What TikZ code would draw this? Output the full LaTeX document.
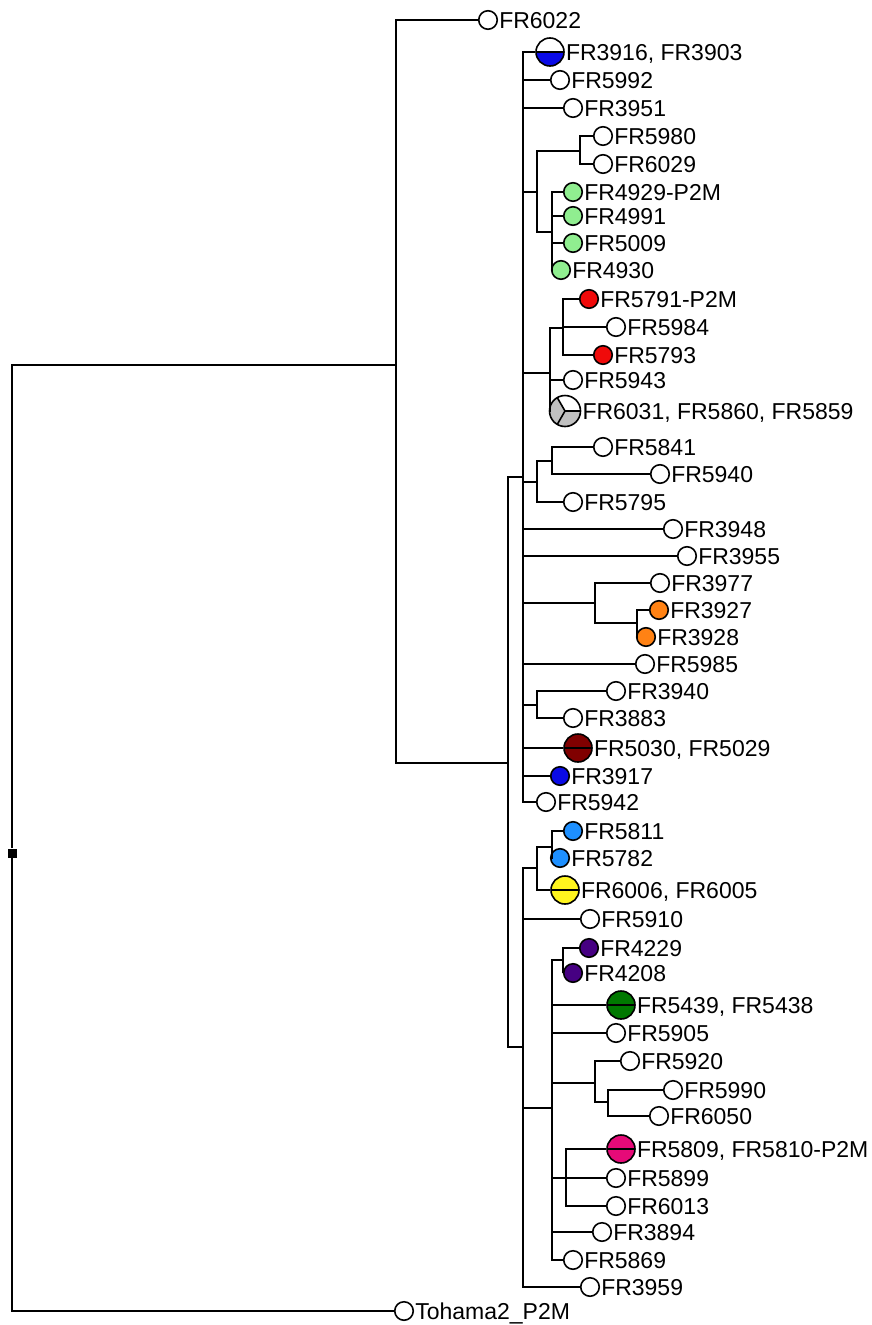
\documentclass[tikz,border=0pt]{standalone}
\usepackage{fontspec}
\setmainfont{Liberation Sans}
\usepackage{tikz}
\usetikzlibrary{positioning,calc}
\usepackage{xcolor}
\definecolor{hapblue}{RGB}{10,10,230}
\definecolor{haplightgreen}{RGB}{144,238,144}
\definecolor{hapred}{RGB}{240,10,10}
\definecolor{hapgrey}{RGB}{192,192,192}
\definecolor{haporange}{RGB}{255,130,20}
\definecolor{hapdarkred}{RGB}{128,0,0}
\definecolor{haplightblue}{RGB}{30,144,255}
\definecolor{hapyellow}{RGB}{255,245,30}
\definecolor{happurple}{RGB}{70,0,130}
\definecolor{hapdarkgreen}{RGB}{0,120,0}
\definecolor{happink}{RGB}{230,10,120}

\begin{document}
\begin{tikzpicture}[x=1pt, y=-1pt,
    br/.style={line width=2.2pt},
    dot/.style={circle, draw=black, line width=1.6pt, fill=white,
        minimum size=18.5pt, inner sep=0pt},
    halfdot/.style 2 args={dot, minimum size=28pt, path picture={
        \fill[#1] (path picture bounding box.north west) rectangle (path picture bounding box.east);
        \fill[#2] (path picture bounding box.west) rectangle (path picture bounding box.south east);
        \draw[line width=1.6pt] (path picture bounding box.west) -- (path picture bounding box.east);}},
    piedot/.style={dot, minimum size=31pt, path picture={
        \fill[hapgrey] (path picture bounding box.center) -- ++(120:20pt)
            arc[start angle=120, end angle=360, radius=20pt] -- cycle;
        \draw[line width=1.6pt] (path picture bounding box.center) -- ++(0:20pt)
            (path picture bounding box.center) -- ++(120:20pt)
            (path picture bounding box.center) -- ++(240:20pt);}},
    rootsq/.style={rectangle, fill=black, minimum size=9pt, inner sep=0pt},
    lab/.style={anchor=west, inner sep=1pt, font=\fontsize{23}{25}\selectfont,
        text height=16.5pt, text depth=0pt}
]
    \useasboundingbox (0,0) rectangle (871,1325);

    % Internal nodes
    \node[rootsq] (root) at (12,853) {};
    \coordinate (n1) at (396,365);
    \coordinate (nA) at (508,763);
    \coordinate (nB) at (523,477);
    \coordinate (nC) at (523,1047);
    \coordinate (nD) at (537,192);
    \coordinate (nE) at (580,151);
    \coordinate (nF) at (552,232);
    \coordinate (nG) at (550,373);
    \coordinate (nH) at (563,328);
    \coordinate (nI) at (537,482);
    \coordinate (nJ) at (552,461);
    \coordinate (nK) at (595,603);
    \coordinate (nL) at (637,623);
    \coordinate (nM) at (537,705);
    \coordinate (nN) at (537,868);
    \coordinate (nO) at (552,847);
    \coordinate (nP) at (552,1108);
    \coordinate (nQ) at (563,960);
    \coordinate (nR) at (595,1083);
    \coordinate (nS) at (608,1102);
    \coordinate (nT) at (566,1178);

    % Leaves
    \node[dot] (fr6022) at (488,20) {};
    \node[dot] (tohama) at (404,1311) {};
    \node[halfdot={white}{hapblue}] (fr3916) at (550,52) {};
    \node[dot] (fr5992) at (560,80) {};
    \node[dot] (fr3951) at (573,108) {};
    \node[dot] (fr5980) at (603,136) {};
    \node[dot] (fr6029) at (603,164) {};
    \node[dot, fill=haplightgreen] (fr4929) at (573,192) {};
    \node[dot, fill=haplightgreen] (fr4991) at (573,216) {};
    \node[dot, fill=haplightgreen] (fr5009) at (573,243) {};
    \node[dot, fill=haplightgreen] (fr4930) at (561,270) {};
    \node[dot, fill=hapred] (fr5791) at (589,299) {};
    \node[dot] (fr5984) at (616,327) {};
    \node[dot, fill=hapred] (fr5793) at (603,355) {};
    \node[dot] (fr5943) at (573,380) {};
    \node[piedot] (fr6031) at (565,411) {};
    \node[dot] (fr5841) at (603,447) {};
    \node[dot] (fr5940) at (660,474) {};
    \node[dot] (fr5795) at (573,502) {};
    \node[dot] (fr3948) at (673,529) {};
    \node[dot] (fr3955) at (687,556) {};
    \node[dot] (fr3977) at (660,583) {};
    \node[dot, fill=haporange] (fr3927) at (659,610) {};
    \node[dot, fill=haporange] (fr3928) at (646,637) {};
    \node[dot] (fr5985) at (645,664) {};
    \node[dot] (fr3940) at (616,691) {};
    \node[dot] (fr3883) at (573,718) {};
    \node[halfdot={hapdarkred}{hapdarkred}] (fr5030) at (578,748) {};
    \node[dot, fill=hapblue] (fr3917) at (560,776) {};
    \node[dot] (fr5942) at (546,802) {};
    \node[dot, fill=haplightblue] (fr5811) at (573,831) {};
    \node[dot, fill=haplightblue] (fr5782) at (560,858) {};
    \node[halfdot={hapyellow}{hapyellow}] (fr6006) at (565,890) {};
    \node[dot] (fr5910) at (590,919) {};
    \node[dot, fill=happurple] (fr4229) at (589,948) {};
    \node[dot, fill=happurple] (fr4208) at (573,973) {};
    \node[halfdot={hapdarkgreen}{hapdarkgreen}] (fr5439) at (621,1005) {};
    \node[dot] (fr5905) at (616,1033) {};
    \node[dot] (fr5920) at (630,1061) {};
    \node[dot] (fr5990) at (673,1090) {};
    \node[dot] (fr6050) at (659,1116) {};
    \node[halfdot={happink}{happink}] (fr5809) at (621,1149) {};
    \node[dot] (fr5899) at (616,1178) {};
    \node[dot] (fr6013) at (616,1206) {};
    \node[dot] (fr3894) at (602,1232) {};
    \node[dot] (fr5869) at (573,1260) {};
    \node[dot] (fr3959) at (590,1287) {};

    % Labels
    \node[lab] (t6022) at (fr6022.east) {FR6022};
    \node[lab] (ttohama) at (tohama.east) {Tohama2\_P2M};
    \node[lab] (t3916) at (fr3916.east) {FR3916, FR3903};
    \node[lab] (t5992) at (fr5992.east) {FR5992};
    \node[lab] (t3951) at (fr3951.east) {FR3951};
    \node[lab] (t5980) at (fr5980.east) {FR5980};
    \node[lab] (t6029) at (fr6029.east) {FR6029};
    \node[lab] (t4929) at (fr4929.east) {FR4929-P2M};
    \node[lab] (t4991) at (fr4991.east) {FR4991};
    \node[lab] (t5009) at (fr5009.east) {FR5009};
    \node[lab] (t4930) at (fr4930.east) {FR4930};
    \node[lab] (t5791) at (fr5791.east) {FR5791-P2M};
    \node[lab] (t5984) at (fr5984.east) {FR5984};
    \node[lab] (t5793) at (fr5793.east) {FR5793};
    \node[lab] (t5943) at (fr5943.east) {FR5943};
    \node[lab] (t6031) at (fr6031.east) {FR6031, FR5860, FR5859};
    \node[lab] (t5841) at (fr5841.east) {FR5841};
    \node[lab] (t5940) at (fr5940.east) {FR5940};
    \node[lab] (t5795) at (fr5795.east) {FR5795};
    \node[lab] (t3948) at (fr3948.east) {FR3948};
    \node[lab] (t3955) at (fr3955.east) {FR3955};
    \node[lab] (t3977) at (fr3977.east) {FR3977};
    \node[lab] (t3927) at (fr3927.east) {FR3927};
    \node[lab] (t3928) at (fr3928.east) {FR3928};
    \node[lab] (t5985) at (fr5985.east) {FR5985};
    \node[lab] (t3940) at (fr3940.east) {FR3940};
    \node[lab] (t3883) at (fr3883.east) {FR3883};
    \node[lab] (t5030) at (fr5030.east) {FR5030, FR5029};
    \node[lab] (t3917) at (fr3917.east) {FR3917};
    \node[lab] (t5942) at (fr5942.east) {FR5942};
    \node[lab] (t5811) at (fr5811.east) {FR5811};
    \node[lab] (t5782) at (fr5782.east) {FR5782};
    \node[lab] (t6006) at (fr6006.east) {FR6006, FR6005};
    \node[lab] (t5910) at (fr5910.east) {FR5910};
    \node[lab] (t4229) at (fr4229.east) {FR4229};
    \node[lab] (t4208) at (fr4208.east) {FR4208};
    \node[lab] (t5439) at (fr5439.east) {FR5439, FR5438};
    \node[lab] (t5905) at (fr5905.east) {FR5905};
    \node[lab] (t5920) at (fr5920.east) {FR5920};
    \node[lab] (t5990) at (fr5990.east) {FR5990};
    \node[lab] (t6050) at (fr6050.east) {FR6050};
    \node[lab] (t5809) at (fr5809.east) {FR5809, FR5810-P2M};
    \node[lab] (t5899) at (fr5899.east) {FR5899};
    \node[lab] (t6013) at (fr6013.east) {FR6013};
    \node[lab] (t3894) at (fr3894.east) {FR3894};
    \node[lab] (t5869) at (fr5869.east) {FR5869};
    \node[lab] (t3959) at (fr3959.east) {FR3959};

    % Branches
    \draw[br] (root) |- (n1) (root) |- (tohama.west);
    \draw[br] (n1) |- (fr6022.west) (n1) |- (nA);
    \draw[br] (nA) |- (nB) (nA) |- (nC);
    \draw[br] (nB) |- (fr3916.west) (nB) |- (fr5992.west) (nB) |- (fr3951.west)
        (nB) |- (nD) (nB) |- (nG) (nB) |- (nI) (nB) |- (fr3948.west)
        (nB) |- (fr3955.west) (nB) |- (nK) (nB) |- (fr5985.west) (nB) |- (nM)
        (nB) |- (fr5030.west) (nB) |- (fr3917.west) (nB) |- (fr5942.west);
    \draw[br] (nD) |- (nE) (nD) |- (nF);
    \draw[br] (nE) |- (fr5980.west) (nE) |- (fr6029.west);
    \draw[br] (nF) |- (fr4929.west) (nF) |- (fr4991.west) (nF) |- (fr5009.west)
        (nF) |- (fr4930.west);
    \draw[br] (nG) |- (nH) (nG) |- (fr5943.west) (nG) |- (fr6031.west);
    \draw[br] (nH) |- (fr5791.west) (nH) |- (fr5984.west) (nH) |- (fr5793.west);
    \draw[br] (nI) |- (nJ) (nI) |- (fr5795.west);
    \draw[br] (nJ) |- (fr5841.west) (nJ) |- (fr5940.west);
    \draw[br] (nK) |- (fr3977.west) (nK) |- (nL);
    \draw[br] (nL) |- (fr3927.west) (nL) |- (fr3928.west);
    \draw[br] (nM) |- (fr3940.west) (nM) |- (fr3883.west);
    \draw[br] (nC) |- (nN) (nC) |- (fr5910.west) (nC) |- (nP) (nC) |- (fr3959.west);
    \draw[br] (nN) |- (nO) (nN) |- (fr6006.west);
    \draw[br] (nO) |- (fr5811.west) (nO) |- (fr5782.west);
    \draw[br] (nP) |- (nQ) (nP) |- (fr5439.west) (nP) |- (fr5905.west) (nP) |- (nR)
        (nP) |- (nT) (nP) |- (fr3894.west) (nP) |- (fr5869.west);
    \draw[br] (nQ) |- (fr4229.west) (nQ) |- (fr4208.west);
    \draw[br] (nR) |- (fr5920.west) (nR) |- (nS);
    \draw[br] (nS) |- (fr5990.west) (nS) |- (fr6050.west);
    \draw[br] (nT) |- (fr5809.west) (nT) |- (fr5899.west) (nT) |- (fr6013.west);
\end{tikzpicture}
\end{document}
